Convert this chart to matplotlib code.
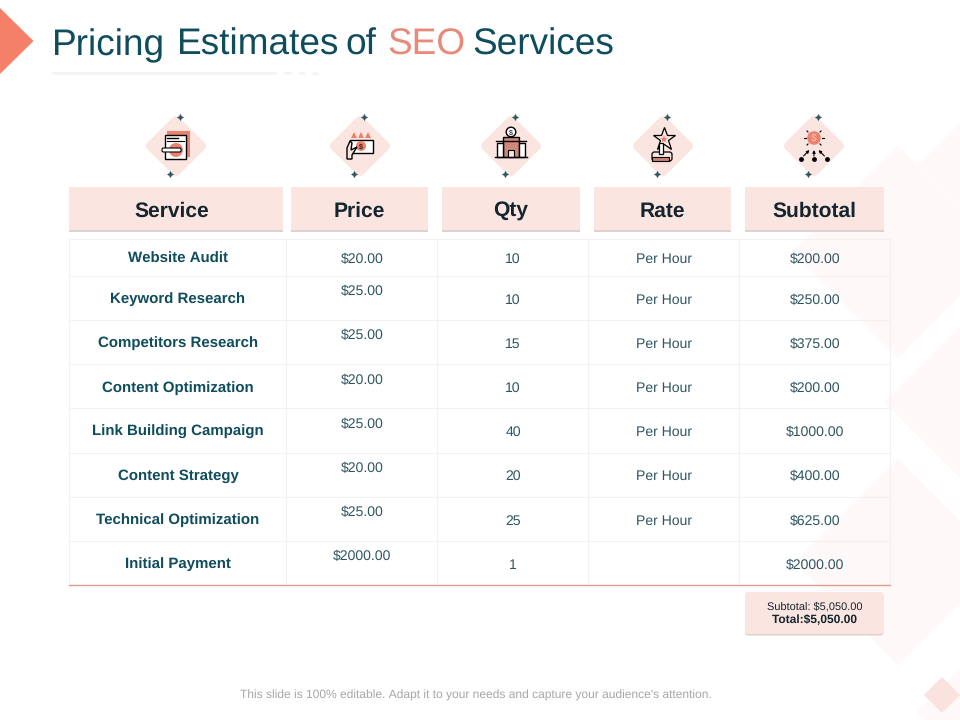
import matplotlib
matplotlib.use("Agg")
import matplotlib.pyplot as plt
from matplotlib.patches import Polygon, Rectangle, FancyBboxPatch, Circle
from matplotlib.transforms import Affine2D

plt.rcParams['font.family'] = ['Liberation Sans', 'DejaVu Sans']
plt.rcParams['text.hinting'] = 'none'
plt.rcParams['text.hinting_factor'] = 1

# table content
headers = ["Service", "Price", "Qty", "Rate", "Subtotal"]
services = ["Website Audit", "Keyword Research", "Competitors Research", "Content Optimization",
            "Link Building Campaign", "Content Strategy", "Technical Optimization", "Initial Payment"]
prices = ["$20.00", "$25.00", "$25.00", "$20.00", "$25.00", "$20.00", "$25.00", "$2000.00"]
qtys = ["10", "10", "15", "10", "40", "20", "25", "1"]
rates = ["Per Hour", "Per Hour", "Per Hour", "Per Hour", "Per Hour", "Per Hour", "Per Hour", ""]
subtotals = ["$200.00", "$250.00", "$375.00", "$200.00", "$1000.00", "$400.00", "$625.00", "$2000.00"]
title_words = ["Pricing", "Estimates", "of", "SEO", "Services"]

# layout, in pixels of the slide
title_x = [52, 176.5, 345.5, 387, 472.5]
col_x = [69, 286, 437, 588, 739, 890]
row_y = [239, 276, 320, 364, 408, 453, 497, 541, 585]
service_y = [259, 299, 343, 388, 432, 476, 520, 564]
price_y = [259, 291, 335, 380, 424, 468, 512, 556]
other_y = [259, 300, 344, 388, 432, 476, 521, 565]
head_x = [(69, 283), (291, 428), (442, 580), (594, 731), (745, 884)]
head_cx = [172, 359.5, 511, 662, 814]
icon_x = [176, 360, 511, 663, 814]

DARK = "#0f4c5c"
NAVY = "#14252e"
TEAL = "#2f5561"
PINK = "#fbe5e1"
SALMON = "#e9836f"
SHADOW = "#dcd3d0"

fig = plt.figure(figsize=(9.6, 7.2), dpi=100)
ax = fig.add_axes([0, 0, 1, 1])
ax.set_xlim(0, 960)
ax.set_ylim(720, 0)
ax.axis("off")

def diamond(cx, cy, r, color, z=0):
    ax.add_patch(Polygon([(cx-r, cy), (cx, cy-r), (cx+r, cy), (cx, cy+r)], closed=True,
                         fc=color, ec="none", zorder=z))

# faint background diamonds on the right
diamond(898, 252, 106, "#fef9f8")
diamond(962, 402, 78, "#fef9f8")
diamond(898, 562, 103, "#fef9f8")
diamond(985, 165, 67, "#fef9f8")
diamond(962, 712, 45, "#fef9f8")
diamond(942, 695, 18, "#fae3de", 1)

# title block
ax.add_patch(Polygon([(0, 8), (33.5, 41), (0, 74)], closed=True, fc="#f4806a", ec="none", zorder=2))
for word, x in zip(title_words, title_x):
    color = "#e8897a" if word == "SEO" else DARK
    ax.text(x, 55, word, fontsize=26.4, color=color, va="baseline", ha="left")
ax.plot([52, 277], [72.5, 72.5], color="#f4f4f4", lw=2, solid_capstyle="butt")
for x0 in [284, 298, 311]:
    ax.plot([x0, x0+7], [72.5, 72.5], color="#f4f4f4", lw=2, solid_capstyle="butt")

# icon backgrounds
for cx in icon_x:
    cy = 146
    rot = Affine2D().rotate_deg_around(cx, cy, 45) + ax.transData
    ax.add_patch(FancyBboxPatch((cx-22.5, cy-22.5), 45, 45, boxstyle="round,pad=0,rounding_size=5",
                                fc=PINK, ec="none", zorder=1, transform=rot))
    ax.plot([cx+4], [117], marker=(4, 1, 0), ms=4.5, color=TEAL, mew=0.3, zorder=3)
    ax.plot([cx-6], [174], marker=(4, 1, 0), ms=4.5, color=TEAL, mew=0.3, zorder=3)

# icons, drawn roughly
ix = icon_x[0]
ax.add_patch(Rectangle((167, 131), 23, 26, fc=SALMON, ec="none", zorder=2))
ax.add_patch(Rectangle((165, 134.5), 21, 24.5, fc="white", ec="black", lw=1, zorder=3))
ax.plot([167, 178], [137.5, 137.5], color="black", lw=1, zorder=4)
ax.plot([167, 184], [141, 141], color="black", lw=0.8, zorder=4)
ax.add_patch(Circle((176, 150), 7, fc=SALMON, ec="none", zorder=4))
ax.add_patch(FancyBboxPatch((162, 148), 19, 4, boxstyle="round,pad=0,rounding_size=1.5",
                            fc="white", ec="black", lw=0.8, zorder=5))
ix = icon_x[1]
ax.add_patch(Rectangle((350, 139.5), 22.5, 13.5, fc="white", ec="black", lw=1, zorder=3))
ax.add_patch(Circle((361, 146), 5, fc=SALMON, ec="none", zorder=4))
ax.text(361, 146.3, "$", fontsize=5, color="black", ha="center", va="center", zorder=5)
for x in [354, 361, 368]:
    ax.plot([x], [135], marker="^", ms=4, color=SALMON, mew=0, zorder=3)
ax.add_patch(Polygon([(347, 159), (347, 148), (350, 141), (352, 143), (351, 150), (357, 147), (352, 155), (352, 159)],
                     closed=True, fc=PINK, ec="black", lw=1, zorder=5))
ix = icon_x[2]
ax.add_patch(Rectangle((503, 137), 16, 20, fc="#cd8a78", ec="black", lw=1, zorder=3))
ax.add_patch(Rectangle((497, 143), 6, 14, fc="white", ec="black", lw=1, zorder=3))
ax.add_patch(Rectangle((519, 143), 6, 14, fc="white", ec="black", lw=1, zorder=3))
ax.add_patch(Rectangle((508, 150), 6, 7, fc=PINK, ec="black", lw=0.8, zorder=4))
ax.plot([496, 526], [141, 141], color="black", lw=1, zorder=4)
ax.add_patch(Circle((511, 132), 4.8, fc="white", ec="black", lw=1, zorder=3))
ax.text(511, 132.3, "$", fontsize=5, color="black", ha="center", va="center", zorder=5)
ax.plot([495, 527], [156.8, 156.8], color="black", lw=1, zorder=4)
ix = icon_x[3]
ax.plot([663.5], [139], marker="*", ms=17, mfc=PINK, mec="black", mew=0.9, zorder=3)
ax.plot([663.5], [139], marker="*", ms=6, mfc=SALMON, mew=0, zorder=4)
ax.add_patch(FancyBboxPatch((652, 152), 20, 9, boxstyle="round,pad=0,rounding_size=2.5",
                            fc=PINK, ec="black", lw=0.9, zorder=4))
ax.add_patch(Rectangle((652, 157), 17, 4, fc="#c9836f", ec="black", lw=0.8, zorder=5))
ax.add_patch(Rectangle((659, 143), 4, 11, fc="white", ec="black", lw=0.9, zorder=5))
ix = icon_x[4]
ax.add_patch(Circle((814, 138), 6.8, fc=SALMON, ec="none", zorder=3))
ax.text(814, 138.3, "$", fontsize=7, color="#f7c4b8", ha="center", va="center", zorder=4)
for dx0, dy0, dx1, dy1 in [(-10, 0, -8, 0), (8, 0, 10, 0), (-7, -7, -6, -6), (6, -6, 7, -7), (-7, 7, -6, 6), (6, 6, 7, 7)]:
    ax.plot([814+dx0, 814+dx1], [138+dy0, 138+dy1], color="black", lw=0.8, zorder=3)
for dx in [-13, 0, 13]:
    ax.plot([814+dx], [159], marker="o", ms=3.5, color="black", mew=0, zorder=3)
    ax.annotate("", xy=(814+dx*0.35, 150), xytext=(814+dx*0.8, 156), zorder=3,
                arrowprops=dict(arrowstyle="-|>", lw=0.8, color="black", shrinkA=0, shrinkB=0, mutation_scale=4))

# header boxes
for (x0, x1), cx, label in zip(head_x, head_cx, headers):
    ax.add_patch(Rectangle((x0, 188), x1-x0, 43.5, fc=SHADOW, ec="none", zorder=1))
    ax.add_patch(Rectangle((x0, 187), x1-x0, 43, fc=PINK, ec="none", zorder=2))
    ax.text(cx, 211.5, label, fontsize=15, fontweight="bold", color=NAVY, ha="center", va="center", zorder=3)

# grid of the table
for y in row_y[:-1]:
    ax.plot([col_x[0], col_x[-1]], [y, y], color="#f4f2f1", lw=0.8, zorder=1)
for x in col_x:
    ax.plot([x, x], [row_y[0], row_y[-1]], color="#f4f2f1", lw=0.8, zorder=1)
ax.plot([col_x[0], col_x[-1]], [row_y[-1], row_y[-1]], color="#dd9d8f", lw=1, zorder=2)

for i in range(len(services)):
    ax.text(178, service_y[i], services[i], fontsize=10.5, fontweight="bold", color=DARK, ha="center", va="center")
    ax.text(362, price_y[i], prices[i], fontsize=10.2, color=TEAL, ha="center", va="center")
    ax.text(513, other_y[i], qtys[i], fontsize=10.2, color=TEAL, ha="center", va="center")
    ax.text(664, other_y[i], rates[i], fontsize=10.2, color=TEAL, ha="center", va="center")
    ax.text(815, other_y[i], subtotals[i], fontsize=10.2, color=TEAL, ha="center", va="center")

# totals box
ax.add_patch(FancyBboxPatch((745, 593), 138.5, 42.5, boxstyle="round,pad=0,rounding_size=3", fc=SHADOW, ec="none", zorder=1))
ax.add_patch(FancyBboxPatch((745, 592), 138.5, 42, boxstyle="round,pad=0,rounding_size=3", fc=PINK, ec="none", zorder=2))
ax.text(814.5, 606.5, "Subtotal: $5,050.00", fontsize=7.6, color=NAVY, ha="center", va="center", zorder=3)
ax.text(814.5, 620.5, "Total:$5,050.00", fontsize=8.7, fontweight="bold", color=NAVY, ha="center", va="center", zorder=3)

ax.text(476, 695, "This slide is 100% editable. Adapt it to your needs and capture your audience's attention.",
        fontsize=8.7, color="#a6a6a6", ha="center", va="center")

fig.savefig("out.png", dpi=100)
